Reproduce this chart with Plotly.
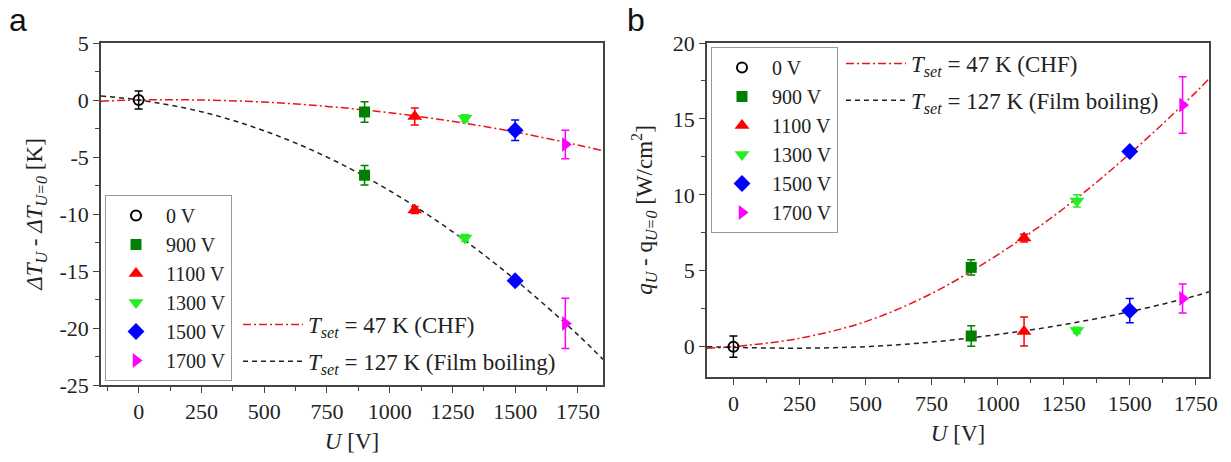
import plotly.graph_objects as go

# ---------------- data ----------------
voltages = ["0 V", "900 V", "1100 V", "1300 V", "1500 V", "1700 V"]
U_vals = [0, 900, 1100, 1300, 1500, 1700]
colors = ["black", "#008000", "#ff0000", "#22ee22", "#0000ff", "#ff00ff"]
symbols = ["circle-open", "square", "triangle-up", "triangle-down", "diamond", "triangle-right"]

# panel a: dT_U - dT_U=0 [K]
dT_chf = [0.0, -1.05, -1.45, -1.6, -2.65, -3.9]
dT_chf_err = [0.8, 0.9, 0.75, 0.3, 0.9, 1.25]
dT_film = [None, -6.6, -9.65, -12.1, -15.85, -19.6]
dT_film_err = [0.0, 0.85, 0.3, 0.3, 0.3, 2.2]

# panel b: q_U - q_U=0 [W/cm2]
q_chf = [0.0, 5.22, 7.15, 9.6, 12.85, 15.92]
q_chf_err = [0.7, 0.5, 0.25, 0.4, 0.2, 1.86]
q_film = [None, 0.7, 1.0, 1.07, 2.37, 3.17]
q_film_err = [0.0, 0.68, 0.95, 0.2, 0.8, 0.95]

# fitted curves
fitA_U = [-150, 0, 250, 500, 750, 1000, 1250, 1500, 1750, 1850]
fitA_chf = [-0.1, 0.0, 0.0, -0.18, -0.56, -1.12, -1.87, -2.81, -3.95, -4.45]
fitA_film = [0.35, 0.0, -1.03, -2.7, -5.0, -7.96, -11.54, -15.76, -20.6, -22.75]

fitB_U = [-100, 0, 250, 500, 750, 1000, 1250, 1500, 1750, 1800]
fitB_chf = [-0.1, 0.0, 0.55, 1.65, 3.5, 6.05, 9.1, 12.7, 16.75, 17.65]
fitB_film = [0.0, -0.05, -0.1, 0.0, 0.3, 0.8, 1.45, 2.3, 3.35, 3.62]

fit_names = ["<i>T</i><sub><i>set</i></sub> = 47 K (CHF)",
             "<i>T</i><sub><i>set</i></sub> = 127 K (Film boiling)"]

xticks = [0, 250, 500, 750, 1000, 1250, 1500, 1750]
yticksA = [5, 0, -5, -10, -15, -20, -25]
yticksB = [0, 5, 10, 15, 20]

FONT = "Liberation Serif"
AX = "#444444"
TXT = "#222222"

fig = go.Figure()

def add_fits(U, chf, film, xa, ya, leg):
    fig.add_trace(go.Scatter(x=U, y=chf, mode="lines", name=fit_names[0], legendgroup=leg + "a",
                             line=dict(color="#e8141e", width=1.5, dash="8px,3px,2px,3px", shape="spline"),
                             xaxis=xa, yaxis=ya, legend=leg))
    fig.add_trace(go.Scatter(x=U, y=film, mode="lines", name=fit_names[1], legendgroup=leg + "b",
                             line=dict(color="#222222", width=1.5, dash="5px,4px", shape="spline"),
                             xaxis=xa, yaxis=ya, legend=leg))

def add_points(chf, chf_err, film, film_err, xa, ya, leg):
    for i, v in enumerate(voltages):
        xs = [U_vals[i]]
        ys = [chf[i]]
        es = [chf_err[i]]
        if film[i] is not None:
            xs.append(U_vals[i]); ys.append(film[i]); es.append(film_err[i])
        size = [10, 11, 13, 13, 13, 13][i]
        fig.add_trace(go.Scatter(
            x=xs, y=ys, mode="markers", name=v,
            marker=dict(symbol=symbols[i], size=size, color=colors[i],
                        line=dict(width=2 if i == 0 else 0, color=colors[i])),
            error_y=dict(type="data", array=es, color=colors[i], thickness=1.5, width=4),
            xaxis=xa, yaxis=ya, legend=leg))

add_fits(fitA_U, fitA_chf, fitA_film, "x", "y", "legend2")
add_points(dT_chf, dT_chf_err, dT_film, dT_film_err, "x", "y", "legend")
add_fits(fitB_U, fitB_chf, fitB_film, "x2", "y2", "legend4")
add_points(q_chf, q_chf_err, q_film, q_film_err, "x2", "y2", "legend3")

W, H = 1231, 462
def px_x(p): return p / W
def px_y(p): return 1 - p / H

axis_common = dict(showline=True, linecolor=AX, linewidth=1.5, mirror=True,
                   showgrid=False, zeroline=False, ticks="outside", ticklen=6,
                   tickwidth=1.2, tickcolor=AX, automargin=False,
                   tickfont=dict(family=FONT, size=22, color=TXT),
                   title_font=dict(family=FONT, size=23, color=TXT))

def ticktxt(vals):
    return [str(v).replace("\u2212", "-") for v in vals]

leg_font = dict(family=FONT, size=20, color=TXT)
fit_font = dict(family=FONT, size=23, color=TXT)

fig.update_layout(
    template="none",
    width=W, height=H, margin=dict(l=0, r=0, t=0, b=0, autoexpand=False),
    paper_bgcolor="white", plot_bgcolor="white",
    font=dict(family=FONT, color=TXT),
    xaxis=dict(domain=[px_x(101), px_x(603)], range=[-150, 1850], tickmode="array",
               tickvals=xticks, ticktext=ticktxt(xticks), anchor="y",
               minor=dict(ticks="outside", ticklen=4, tickvals=[-125, 125, 375, 625, 875, 1125, 1375, 1625], tickcolor=AX),
               title=dict(text="<i>U</i> [V]", standoff=10), **axis_common),
    yaxis=dict(domain=[px_y(385), px_y(43)], range=[-25, 5], tickmode="array",
               tickvals=yticksA, ticktext=ticktxt(yticksA), anchor="x",
               minor=dict(ticks="outside", ticklen=4, dtick=2.5, tickcolor=AX),
               title=dict(text="<i>ΔT</i><sub><i>U</i></sub> - <i>ΔT</i><sub><i>U=0</i></sub> [K]", standoff=10),
               **axis_common),
    xaxis2=dict(domain=[px_x(707), px_x(1209)], range=[-100, 1800], tickmode="array",
                tickvals=xticks, ticktext=ticktxt(xticks), anchor="y2",
                minor=dict(ticks="outside", ticklen=4, tickvals=[125, 375, 625, 875, 1125, 1375, 1625], tickcolor=AX),
                title=dict(text="<i>U</i> [V]", standoff=10), **axis_common),
    yaxis2=dict(domain=[px_y(377), px_y(43)], range=[-2, 20], tickmode="array",
                tickvals=yticksB, ticktext=ticktxt(yticksB), anchor="x2",
                minor=dict(ticks="outside", ticklen=4, dtick=2.5, tickcolor=AX),
                title=dict(text="<i>q</i><sub><i>U</i></sub> - q<sub><i>U=0</i></sub> [W/cm<sup>2</sup>]", standoff=14),
                **axis_common),
    legend=dict(x=px_x(105), y=px_y(195), xanchor="left", yanchor="top",
                bordercolor="#999", borderwidth=1, bgcolor="white", itemwidth=50,
                font=leg_font),
    legend2=dict(x=px_x(238), y=px_y(303), xanchor="left", yanchor="top",
                 bgcolor="rgba(0,0,0,0)", itemwidth=60, tracegroupgap=4,
                 font=fit_font),
    legend3=dict(x=px_x(711), y=px_y(47), xanchor="left", yanchor="top",
                 bordercolor="#999", borderwidth=1, bgcolor="white", itemwidth=50,
                 font=leg_font),
    legend4=dict(x=px_x(841), y=px_y(42), xanchor="left", yanchor="top",
                 bgcolor="rgba(0,0,0,0)", itemwidth=60, tracegroupgap=4,
                 font=fit_font),
    annotations=[
        dict(text="a", x=px_x(18), y=px_y(40), xref="paper", yref="paper", showarrow=False,
             xanchor="center", yanchor="bottom",
             font=dict(family="Liberation Sans", size=32, color="#111")),
        dict(text="b", x=px_x(636), y=px_y(40), xref="paper", yref="paper", showarrow=False,
             xanchor="center", yanchor="bottom",
             font=dict(family="Liberation Sans", size=32, color="#111")),
    ],
)

fig.write_html("out.html", config={"displayModeBar": False},
               post_script="document.body.style.margin='0px';")
